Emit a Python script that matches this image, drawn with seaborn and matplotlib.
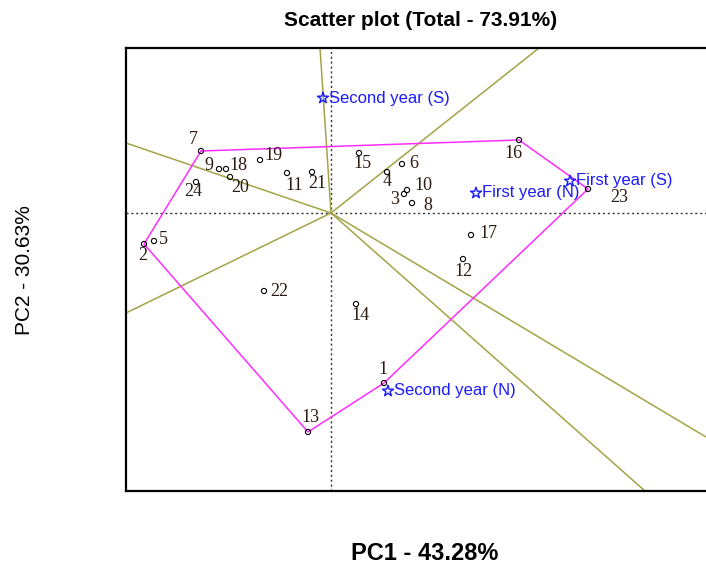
import matplotlib
matplotlib.use("Agg")
import matplotlib.pyplot as plt
import seaborn as sns
import pandas as pd

# genotype scores (PC1, PC2)
genotypes = [str(i) for i in range(1, 25)]
pc1 = [0.53, -1.87, 0.73, 0.56, -1.77, 0.71, -1.30, 0.81, -1.12, 0.76, -0.44, 1.32,
       -0.23, 0.25, 0.28, 1.88, 1.40, -1.05, -0.71, -1.01, -0.19, -0.67, 2.57, -1.35]
pc2 = [-1.70, -0.31, 0.19, 0.41, -0.28, 0.49, 0.62, 0.10, 0.44, 0.23, 0.40, -0.46,
       -2.19, -0.91, 0.60, 0.73, -0.22, 0.44, 0.53, 0.36, 0.41, -0.78, 0.24, 0.31]

# environment scores
environments = ["First year (S)", "First year (N)", "Second year (S)", "Second year (N)"]
env_pc1 = [2.39, 1.45, -0.08, 0.57]
env_pc2 = [0.32, 0.20, 1.15, -1.78]

# polygon vertices (genotype labels) and sector rays
hull = ["7", "16", "23", "1", "13", "2", "7"]
ray_x = [-0.11, 2.08, 3.75, 3.14, -2.05, -2.05]
ray_y = [1.65, 1.65, -2.24, -2.78, -1.00, 0.70]

# label offsets in pixels (dx, dy)
offsets = {"1": (-1, 13), "2": (-1, -11), "3": (-9, -5), "4": (0, -10), "5": (9, 1),
           "6": (12, 0), "7": (-8, 11), "8": (16, -2), "9": (-10, 3), "10": (16, 4),
           "11": (7, -12), "12": (0, -13), "13": (2, 15), "14": (4, -11), "15": (3, -11),
           "16": (-6, -13), "17": (17, 2), "18": (12, 4), "19": (13, 5), "20": (10, -11),
           "21": (5, -11), "22": (15, 0), "23": (31, -9), "24": (-3, -10)}

df = pd.DataFrame({"g": genotypes, "x": pc1, "y": pc2})
pos = df.set_index("g")

sns.set_style("white")
plt.rcParams["font.family"] = ["Liberation Sans", "DejaVu Sans"]
plt.rcParams["text.color"] = "black"

fig = plt.figure(figsize=(7.06, 5.63), dpi=100)
ax = fig.add_axes([126 / 706, 72 / 563, (760 - 126) / 706, 443 / 563])
xmin, ymin = -2.05, -2.78
xmax, ymax = xmin + 6.34, 1.65
ax.set_xlim(xmin, xmax)
ax.set_ylim(ymin, ymax)

ax.axhline(0, color="#333333", ls=(0, (1.5, 2)), lw=1)
ax.axvline(0, color="#333333", ls=(0, (1.5, 2)), lw=1)

for rx, ry in zip(ray_x, ray_y):
    ax.plot([0, rx * 2], [0, ry * 2], color="#a3a347", lw=1.1, zorder=2)

ax.plot(pos.loc[hull, "x"], pos.loc[hull, "y"], color="#ff2cff", lw=1.1, zorder=3)

sns.scatterplot(data=df, x="x", y="y", ax=ax, s=14, facecolor="none",
                edgecolor="black", linewidth=0.8, zorder=4, legend=False)

for g, x, y in zip(genotypes, pc1, pc2):
    ax.annotate(g, (x, y), xytext=offsets[g], textcoords="offset pixels",
                ha="center", va="center", fontsize=13, family="Liberation Serif",
                color="#2a1a10", zorder=5)

ax.scatter(env_pc1, env_pc2, marker="*", s=70, facecolor="none",
           edgecolor="#1a1aff", linewidth=1, zorder=5)
for e, x, y in zip(environments, env_pc1, env_pc2):
    ax.annotate(e, (x, y), xytext=(6, 0), textcoords="offset pixels",
                ha="left", va="center", fontsize=12, color="#1a1aff", zorder=6)

ax.set_xticks([])
ax.set_yticks([])
ax.set_xlabel("")
ax.set_ylabel("")
for side in ["left", "top", "bottom"]:
    ax.spines[side].set_linewidth(1.6)
    ax.spines[side].set_color("black")
ax.spines["right"].set_visible(False)

fig.text(421 / 706, 1 - 21 / 563, "Scatter plot (Total - 73.91%)", ha="center",
         va="center", fontsize=15, fontweight="bold", color="black")
fig.text(425 / 706, 1 - 553 / 563, "PC1 - 43.28%", ha="center", va="center",
         fontsize=17, fontweight="bold", color="black")
fig.text(25 / 706, 1 - 270 / 563, "PC2 - 30.63%", ha="center", va="center",
         fontsize=15, rotation=90, color="black")

fig.savefig("out.png", dpi=100)
